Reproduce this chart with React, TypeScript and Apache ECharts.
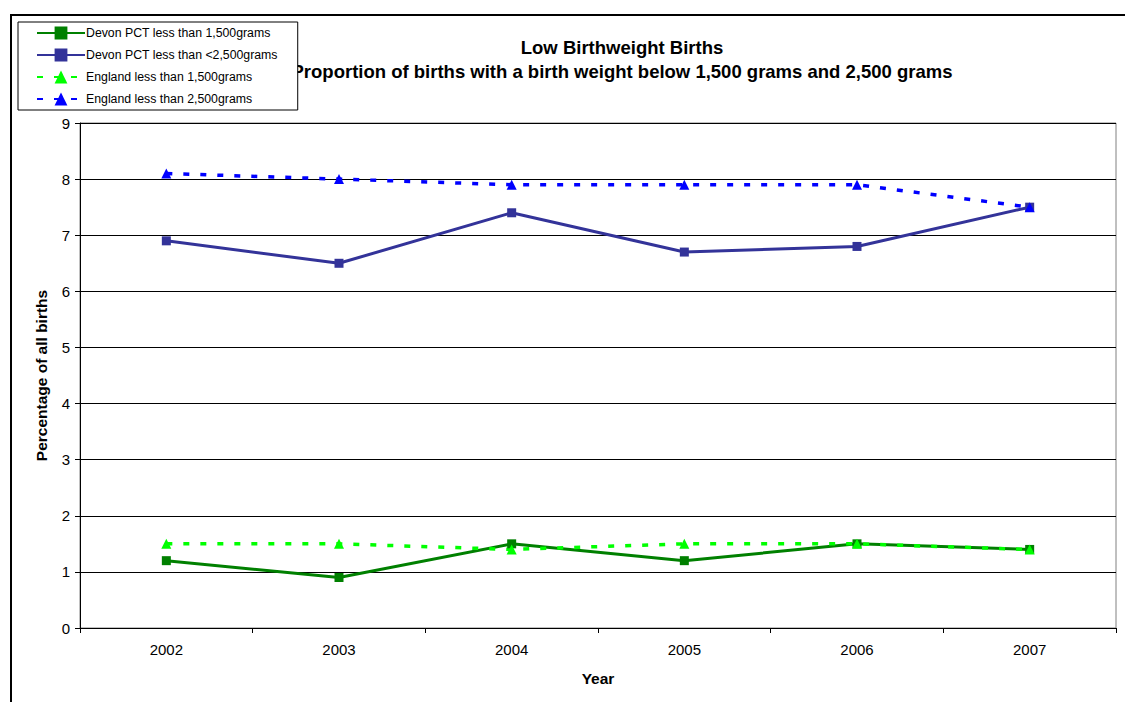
import React, { useEffect, useRef } from "react";
import * as echarts from "echarts";

const years = ["2002", "2003", "2004", "2005", "2006", "2007"];
const devon1500 = [1.2, 0.9, 1.5, 1.2, 1.5, 1.4];
const devon2500 = [6.9, 6.5, 7.4, 6.7, 6.8, 7.5];
const england1500 = [1.5, 1.5, 1.4, 1.5, 1.5, 1.4];
const england2500 = [8.1, 8.0, 7.9, 7.9, 7.9, 7.5];
const seriesNames = [
  "Devon PCT less than 1,500grams",
  "Devon PCT less than <2,500grams",
  "England less than 1,500grams",
  "England less than 2,500grams",
];
const titleLine1 = "Low Birthweight Births";
const titleLine2 = "Proportion of births with a birth weight below 1,500 grams and 2,500 grams";

const FONT = "'Liberation Sans', Arial, sans-serif";

export default function App() {
  const ref = useRef<HTMLDivElement>(null);
  useEffect(() => {
    document.body.style.margin = "0";
    const chart = echarts.init(ref.current!, null, { renderer: "svg" });
    const solid = (name: string, data: number[], color: string) => ({
      name,
      type: "line",
      data,
      symbol: "rect",
      symbolSize: 9,
      itemStyle: { color },
      lineStyle: { color, width: 3 },
    });
    const dashed = (name: string, data: number[], color: string) => ({
      name,
      type: "line",
      data,
      symbol: "triangle",
      symbolSize: 10,
      itemStyle: { color },
      lineStyle: { color, width: 3.5, type: [6, 11] },
    });
    chart.setOption({
      animation: false,
      backgroundColor: "#ffffff",
      textStyle: { fontFamily: FONT },
      grid: { left: 80, right: 9, top: 123, bottom: 74, show: true, borderColor: "#808080", borderWidth: 1 },
      graphic: [
        {
          type: "rect",
          shape: { x: 11, y: 15, width: 1300, height: 900 },
          style: { fill: "none", stroke: "#000", lineWidth: 2 },
          z: -1,
        },
        {
          type: "text",
          x: 622,
          y: 38,
          style: { text: titleLine1, fill: "#000", font: `bold 18.5px ${FONT}`, textAlign: "center" },
        },
        {
          type: "text",
          x: 622,
          y: 62,
          style: { text: titleLine2, fill: "#000", font: `bold 18.5px ${FONT}`, textAlign: "center" },
        },
      ],
      legend: {
        orient: "vertical",
        left: 18,
        top: 22,
        padding: [3, 20, 3, 18],
        itemGap: 6,
        itemWidth: 48,
        itemHeight: 16,
        borderColor: "#000",
        borderWidth: 1,
        backgroundColor: "#fff",
        textStyle: { fontFamily: FONT, fontSize: 12.3, color: "#000", padding: [0, 0, 0, -4], lineHeight: 16 },
        data: seriesNames,
      },
      xAxis: {
        type: "category",
        data: years,
        boundaryGap: true,
        name: "Year",
        nameLocation: "middle",
        nameGap: 42,
        nameTextStyle: { fontFamily: FONT, fontSize: 15.5, fontWeight: "bold", color: "#000" },
        axisLine: { lineStyle: { color: "#000", width: 1 } },
        axisTick: { show: true, length: 5, lineStyle: { color: "#000" } },
        axisLabel: { fontFamily: FONT, fontSize: 15, color: "#000", margin: 14 },
      },
      yAxis: {
        type: "value",
        min: 0,
        max: 9,
        interval: 1,
        name: "Percentage of all births",
        nameLocation: "middle",
        nameGap: 31,
        nameTextStyle: { fontFamily: FONT, fontSize: 15.5, fontWeight: "bold", color: "#000" },
        axisLine: { show: true, lineStyle: { color: "#000", width: 1 } },
        axisTick: { show: true, length: 5, lineStyle: { color: "#000" } },
        axisLabel: { fontFamily: FONT, fontSize: 15, color: "#000", margin: 10 },
        splitLine: { show: true, lineStyle: { color: "#000", width: 1 } },
      },
      series: [
        solid(seriesNames[0], devon1500, "#008000"),
        solid(seriesNames[1], devon2500, "#333399"),
        dashed(seriesNames[2], england1500, "#00FF00"),
        dashed(seriesNames[3], england2500, "#0000FF"),
      ],
    });
    return () => chart.dispose();
  }, []);
  return <div ref={ref} style={{ width: 1125, height: 702 }} />;
}
